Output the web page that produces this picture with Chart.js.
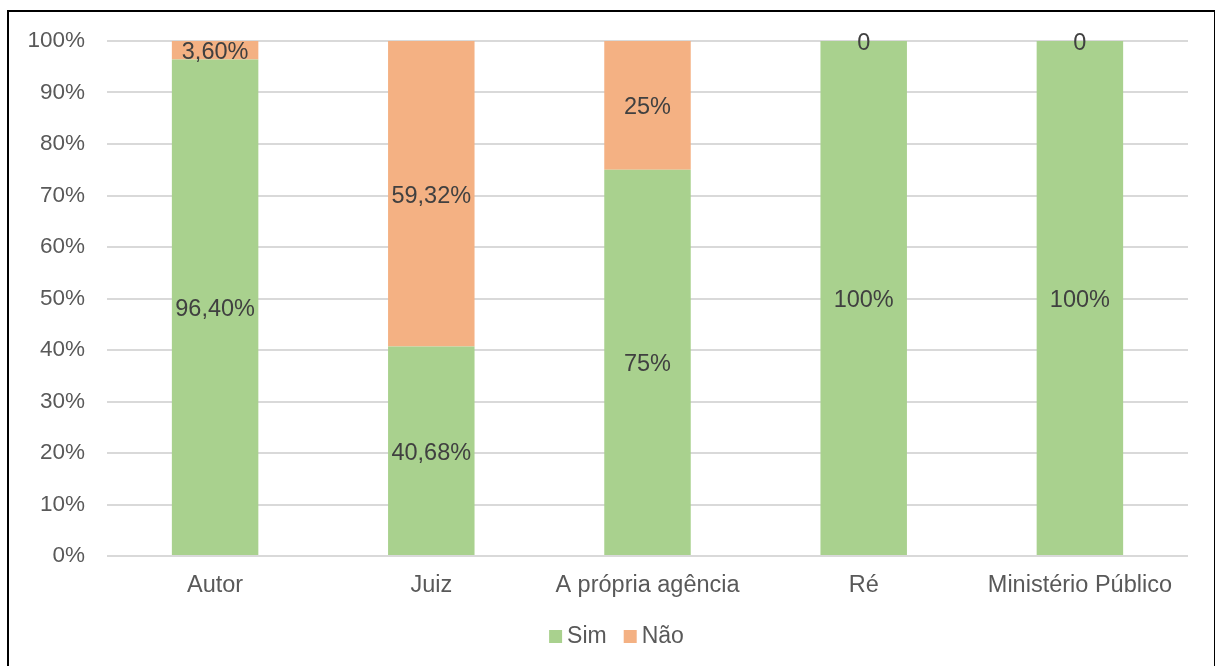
<!DOCTYPE html>
<html>
<head>
<meta charset="utf-8">
<script src="https://cdn.jsdelivr.net/npm/chart.js@4"></script>
<style>
  html, body { margin: 0; padding: 0; background: #fff; }
  body { width: 1217px; height: 666px; position: relative; overflow: hidden; }
  #frame { position: absolute; left: 7px; top: 10px; width: 1205px; height: 670px;
           border-left: 2px solid #000; border-top: 2px solid #000; border-right: 1px solid #000; }
  #wrap { position: absolute; left: 0; top: 0; width: 1217px; height: 666px; }
</style>
</head>
<body>
<div id="frame"></div>
<div id="wrap"><canvas id="chart"></canvas></div>
<script>
const categories = ["Autor", "Juiz", "A própria agência", "Ré", "Ministério Público"];
const simValues = [96.40, 40.68, 75, 100, 100];
const naoValues = [3.60, 59.32, 25, 0, 0];
const simLabels = ["96,40%", "40,68%", "75%", "100%", "100%"];
const naoLabels = ["3,60%", "59,32%", "25%", "0", "0"];
const yTicks = [0, 10, 20, 30, 40, 50, 60, 70, 80, 90, 100];

const FONT = "'Liberation Sans', Arial, sans-serif";

// draw the value text in the middle of each bar segment
const segmentLabels = {
  id: "segmentLabels",
  afterDatasetsDraw(chart) {
    const ctx = chart.ctx;
    ctx.save();
    ctx.font = "23.5px " + FONT;
    ctx.fillStyle = "#404040";
    ctx.textAlign = "center";
    ctx.textBaseline = "middle";
    chart.data.datasets.forEach((ds, i) => {
      const meta = chart.getDatasetMeta(i);
      meta.data.forEach((bar, j) => {
        const mid = (bar.y + bar.base) / 2;
        ctx.fillText(ds.valueLabels[j], bar.x, mid + 2.5);
      });
    });
    ctx.restore();
  }
};

// simple legend at the bottom, Excel style (small square, tight gap)
const bottomLegend = {
  id: "bottomLegend",
  afterDraw(chart) {
    const ctx = chart.ctx;
    ctx.save();
    ctx.font = "23px " + FONT;
    ctx.textBaseline = "middle";
    const box = 13, gap = 5, itemGap = 17;
    const items = chart.data.datasets.map(ds => ({ text: ds.label, color: ds.backgroundColor, w: ctx.measureText(ds.label).width }));
    let total = 0;
    items.forEach((it, i) => { total += box + gap + it.w + (i ? itemGap : 0); });
    let x = chart.width / 2 + 8 - total / 2;
    const y = 636.5;
    items.forEach(it => {
      ctx.fillStyle = it.color;
      ctx.fillRect(x, y - box / 2, box, box);
      x += box + gap;
      ctx.fillStyle = "#595959";
      ctx.fillText(it.text, x, y);
      x += it.w + itemGap;
    });
    ctx.restore();
  }
};

const ctx = document.getElementById("chart").getContext("2d");
new Chart(ctx, {
  type: "bar",
  data: {
    labels: categories,
    datasets: [
      {
        label: "Sim",
        data: simValues,
        valueLabels: simLabels,
        backgroundColor: "#A9D18E",
        categoryPercentage: 0.8,
        barPercentage: 0.5
      },
      {
        label: "Não",
        data: naoValues,
        valueLabels: naoLabels,
        backgroundColor: "#F4B183",
        categoryPercentage: 0.8,
        barPercentage: 0.5
      }
    ]
  },
  options: {
    responsive: true,
    maintainAspectRatio: false,
    animation: false,
    layout: { padding: { left: 0, right: 29, top: 41, bottom: 52 } },
    plugins: {
      tooltip: { enabled: false },
      legend: { display: false }
    },
    scales: {
      x: {
        stacked: true,
        afterFit(scale) { scale.height = 58; },
        grid: { display: false, drawTicks: false },
        border: { display: false },
        ticks: {
          color: "#595959",
          padding: 15,
          maxRotation: 0,
          autoSkip: false,
          font: { family: FONT, size: 23.5 }
        }
      },
      y: {
        stacked: true,
        min: 0,
        max: 100,
        afterFit(scale) { scale.width = 107; },
        afterBuildTicks(scale) { scale.ticks = yTicks.map(v => ({ value: v })); },
        grid: { color: "#d9d9d9", lineWidth: 2, drawTicks: false },
        border: { display: false },
        ticks: {
          color: "#595959",
          padding: 22,
          font: { family: FONT, size: 22.5 },
          callback: v => v + "%"
        }
      }
    }
  },
  plugins: [segmentLabels, bottomLegend]
});
</script>
</body>
</html>
